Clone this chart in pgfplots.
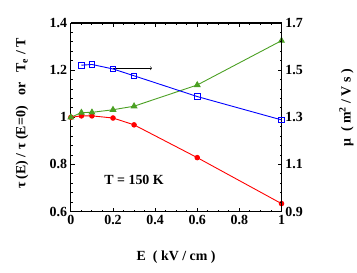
\documentclass[border=0pt]{standalone}
\usepackage{fontspec}
\setmainfont{Liberation Serif}
\usepackage{pgfplots}
\pgfplotsset{compat=1.18}
\definecolor{cred}{RGB}{255,0,0}
\definecolor{cblue}{RGB}{0,0,255}
\definecolor{cgreen}{RGB}{75,160,35}
\begin{document}
\begin{tikzpicture}
\pgfplotsset{
  every axis/.append style={
    scale only axis, width=211bp, height=189bp,
    line width=1.1pt,
    /pgf/number format/assume math mode=true,
    tick label style={font=\bfseries\fontsize{14}{16}\selectfont},
    label style={font=\bfseries\fontsize{14}{16}\selectfont},
    xmin=0, xmax=1,
    major tick length=4bp, minor tick length=2bp,
    tick style={line width=0.9pt, black},
  }
}
\begin{axis}[
  at={(0,0)}, anchor=south west,
  axis y line*=left,
  ymin=0.6, ymax=1.4,
  ytick={0.6,0.8,1,1.2,1.4},
  yticklabels={0.6,0.8,1,1.2,1.4},
  xtick={0,0.2,0.4,0.6,0.8,1},
  xticklabels={0,0.2,0.4,0.6,0.8,1},
  minor x tick num=3, minor y tick num=4,
  xtick pos=both,
  ylabel={τ (E) / τ (E=0)\ \ \ or\ \ \ T\textsubscript{e} / T},
  xlabel={E\ \ ( kV / cm )},
  ylabel style={at={(axis description cs:-0.232,0.52)}, anchor=center},
  xlabel style={at={(axis description cs:0.5,-0.243)}, anchor=center},
]
\addplot[cred, line width=0.9pt, mark=*, mark size=2.3pt] coordinates {
 (0,1.0) (0.05,1.006) (0.1,1.006) (0.2,0.997) (0.3,0.968) (0.6,0.829) (1.0,0.634)};
\addplot[cgreen, line width=0.9pt, mark=triangle*, mark size=3.2pt] coordinates {
 (0,1.0) (0.05,1.02) (0.1,1.021) (0.2,1.032) (0.3,1.047) (0.6,1.137) (1.0,1.325)};
\draw[->, line width=0.5pt, black] (axis cs:0.2,1.208) -- (axis cs:0.385,1.208);
\node[font=\bfseries\fontsize{14}{16}\selectfont] at (axis cs:0.3,0.735) {T = 150 K};
\end{axis}
\begin{axis}[
  at={(0,0)}, anchor=south west,
  axis y line*=right, axis x line=none,
  ymin=0.9, ymax=1.7,
  ytick={0.9,1.1,1.3,1.5,1.7},
  yticklabels={0.9,1.1,1.3,1.5,1.7},
  minor y tick num=4,
  yticklabel pos=right,
  ylabel={μ\ \ ( m\textsuperscript{2} / V s )},
  ylabel style={at={(axis description cs:1.308,0.55)}, anchor=center},
]
\addplot[cblue, line width=0.9pt, mark=square, mark size=2.8pt, mark options={line width=0.9pt}] coordinates {
 (0.05,1.521) (0.1,1.524) (0.2,1.505) (0.3,1.476) (0.6,1.388) (1.0,1.289)};
\end{axis}
\path[use as bounding box] (-71bp,-61bp) rectangle (286bp,212bp);
\end{tikzpicture}
\end{document}
